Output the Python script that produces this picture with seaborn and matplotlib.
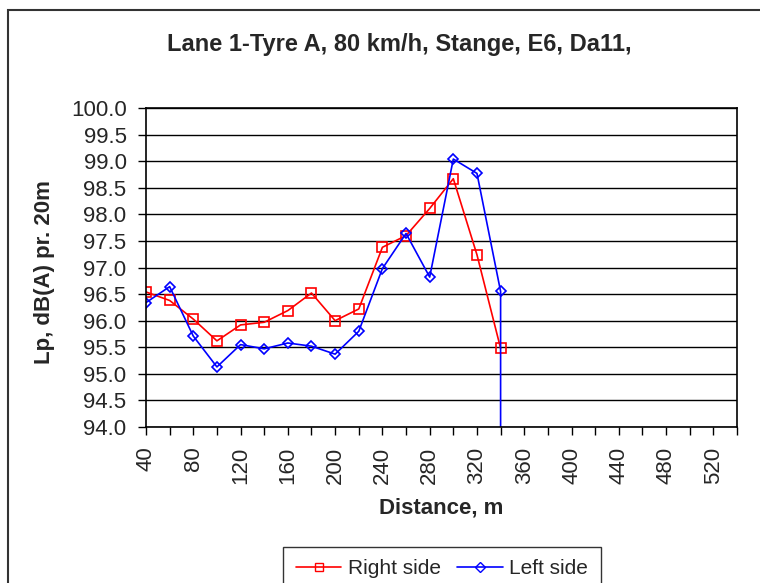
import numpy as np
import pandas as pd
import matplotlib
matplotlib.use("Agg")
import matplotlib.pyplot as plt
from matplotlib.patches import Rectangle
from matplotlib.lines import Line2D
import seaborn as sns

# distances (m) and levels
distance_right = [40, 60, 80, 100, 120, 140, 160, 180, 200, 220, 240, 260, 280, 300, 320, 340]
right_side = [96.54, 96.38, 96.03, 95.62, 95.92, 95.97, 96.19, 96.52, 96.00, 96.22,
              97.38, 97.60, 98.11, 98.67, 97.24, 95.48]

distance_left = [40, 60, 80, 100, 120, 140, 160, 180, 200, 220, 240, 260, 280, 300, 320, 340, 340]
left_side = [96.34, 96.64, 95.71, 95.13, 95.55, 95.47, 95.58, 95.52, 95.37, 95.80,
             96.98, 97.64, 96.82, 99.04, 98.77, 96.55, 0.0]

x_ticks = list(range(40, 541, 20))
y_ticks = np.arange(94.0, 100.01, 0.5)

sns.set_style("white")
plt.rcParams['font.family'] = ['Liberation Sans', 'DejaVu Sans']

fig = plt.figure(figsize=(7.6, 5.83), dpi=100)
ax = fig.add_axes([146 / 760, 1 - 427 / 583, (737 - 146) / 760, (427 - 108) / 583])

# outer chart border
fig.patches.append(Rectangle((8 / 760, -0.1), 1.2, 1 - 10 / 583 + 0.1, transform=fig.transFigure,
                             fill=False, edgecolor='#333333', linewidth=1.5))

df_right = pd.DataFrame({'Distance': distance_right, 'Lp': right_side})
df_left = pd.DataFrame({'Distance': distance_left, 'Lp': left_side})

sns.lineplot(data=df_right, x='Distance', y='Lp', ax=ax, color='red', marker='s',
             markersize=6.5, markerfacecolor='none', markeredgecolor='red',
             markeredgewidth=1.2, linewidth=1.2, estimator=None, sort=False)
sns.lineplot(data=df_left, x='Distance', y='Lp', ax=ax, color='blue', marker='D',
             markersize=5.5, markerfacecolor='none', markeredgecolor='blue',
             markeredgewidth=1.2, linewidth=1.2, estimator=None, sort=False)

ax.set_xlim(40, 540)
ax.set_ylim(94.0, 100.0)
ax.set_yticks(y_ticks)
ax.set_yticklabels([f"{v:.1f}" for v in y_ticks], fontsize=16)
ax.set_xticks(x_ticks)
ax.set_xticklabels([str(v) if (v - 40) % 40 == 0 else '' for v in x_ticks], rotation=90, fontsize=16)
ax.tick_params(axis='both', direction='out', length=6, width=1, color='black', pad=8, bottom=True, left=True)

ax.grid(axis='y', color='black', linewidth=1)
ax.set_axisbelow(True)
for s in ax.spines.values():
    s.set_color('black')
    s.set_linewidth(1.2)

ax.set_xlabel('Distance, m', fontsize=16, fontweight='bold', va='center')
ax.xaxis.set_label_coords(0.5, (427 - 508) / 319)
ax.set_ylabel('Lp, dB(A) pr. 20m', fontsize=16, fontweight='bold', va='center')
ax.yaxis.set_label_coords((45 - 146) / 591, 0.485)
fig.text(399 / 760, 1 - 45 / 583, 'Lane 1-Tyre A, 80 km/h, Stange, E6, Da11,',
         fontsize=17, fontweight='bold', ha='center', va='center')

handles = [Line2D([], [], color='red', marker='s', markersize=6, markerfacecolor='none', linewidth=1.2),
           Line2D([], [], color='blue', marker='D', markersize=5, markerfacecolor='none', linewidth=1.2)]
leg = fig.legend(handles, ['Right side', 'Left side'], loc='upper center',
                 bbox_to_anchor=(442 / 760, 1 - 547 / 583), borderaxespad=0, ncol=2, fontsize=15,
                 frameon=True, fancybox=False, edgecolor='black', handlelength=2.2,
                 handletextpad=0.3, columnspacing=0.8, borderpad=0.6)
leg.get_frame().set_linewidth(1)

fig.savefig('out.png', dpi=100)
